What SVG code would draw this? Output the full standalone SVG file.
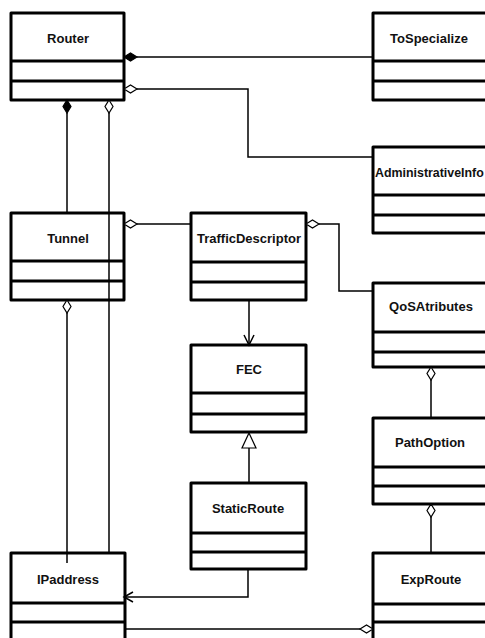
<svg xmlns="http://www.w3.org/2000/svg" width="485" height="638" viewBox="0 0 485 638">
<style>
.box{fill:none;stroke:#000;stroke-width:3;stroke-linejoin:round}
.div{stroke:#000;stroke-width:3}
.t{font-family:"Liberation Sans",Arial,sans-serif;font-weight:bold;font-size:13px;fill:#111;text-anchor:middle}
.c{fill:none;stroke:#000;stroke-width:1.5}
.fd{fill:#000;stroke:#000;stroke-width:1.2}
.hd{fill:#fff;stroke:#000;stroke-width:1.2}
</style>
<rect width="485" height="638" fill="#fff"/>
<g id="Router">
<rect class="box" x="11" y="13" width="113" height="87"/>
<line class="div" x1="11" y1="61" x2="124" y2="61"/>
<line class="div" x1="11" y1="81" x2="124" y2="81"/>
<text class="t" x="68" y="42.5">Router</text>
</g>
<g id="ToSpecialize">
<rect class="box" x="373" y="13" width="114" height="87"/>
<line class="div" x1="373" y1="61" x2="487" y2="61"/>
<line class="div" x1="373" y1="81" x2="487" y2="81"/>
<text class="t" x="429" y="42.5">ToSpecialize</text>
</g>
<g id="AdministrativeInfo">
<rect class="box" x="373" y="147" width="114" height="86"/>
<line class="div" x1="373" y1="195" x2="487" y2="195"/>
<line class="div" x1="373" y1="215" x2="487" y2="215"/>
<text class="t" x="375" y="176.5" style="text-anchor:start;font-size:12.4px">AdministrativeInfo</text>
</g>
<g id="Tunnel">
<rect class="box" x="11" y="213" width="113" height="87"/>
<line class="div" x1="11" y1="261" x2="124" y2="261"/>
<line class="div" x1="11" y1="281" x2="124" y2="281"/>
<text class="t" x="68" y="242.5">Tunnel</text>
</g>
<g id="TrafficDescriptor">
<rect class="box" x="191" y="213" width="115" height="87"/>
<line class="div" x1="191" y1="262" x2="306" y2="262"/>
<line class="div" x1="191" y1="282" x2="306" y2="282"/>
<text class="t" x="249" y="242.5">TrafficDescriptor</text>
</g>
<g id="QoSAtributes">
<rect class="box" x="373" y="283" width="114" height="84"/>
<line class="div" x1="373" y1="332" x2="487" y2="332"/>
<line class="div" x1="373" y1="352" x2="487" y2="352"/>
<text class="t" x="431" y="311">QoSAtributes</text>
</g>
<g id="FEC">
<rect class="box" x="191" y="345" width="115" height="87"/>
<line class="div" x1="191" y1="393" x2="306" y2="393"/>
<line class="div" x1="191" y1="414" x2="306" y2="414"/>
<text class="t" x="249" y="374">FEC</text>
</g>
<g id="PathOption">
<rect class="box" x="373" y="418" width="114" height="86"/>
<line class="div" x1="373" y1="467" x2="487" y2="467"/>
<line class="div" x1="373" y1="486" x2="487" y2="486"/>
<text class="t" x="430" y="447">PathOption</text>
</g>
<g id="StaticRoute">
<rect class="box" x="191" y="483" width="115" height="86"/>
<line class="div" x1="191" y1="533" x2="306" y2="533"/>
<line class="div" x1="191" y1="552" x2="306" y2="552"/>
<text class="t" x="248" y="512.5">StaticRoute</text>
</g>
<g id="IPaddress">
<rect class="box" x="11" y="553" width="114" height="88"/>
<line class="div" x1="11" y1="603" x2="125" y2="603"/>
<line class="div" x1="11" y1="622" x2="125" y2="622"/>
<text class="t" x="68" y="584">IPaddress</text>
</g>
<g id="ExpRoute">
<rect class="box" x="373" y="553" width="114" height="88"/>
<line class="div" x1="373" y1="604" x2="487" y2="604"/>
<line class="div" x1="373" y1="622" x2="487" y2="622"/>
<text class="t" x="431" y="584">ExpRoute</text>
</g>
<g id="connectors">
<line class="c" x1="137" y1="57" x2="373" y2="57"/>
<polygon class="fd" points="124,57 130.5,53 137,57 130.5,61"/>
<polyline class="c" points="137,89 248,89 248,157 373,157"/>
<polygon class="hd" points="124,89 130.5,85 137,89 130.5,93"/>
<line class="c" x1="67" y1="113" x2="67" y2="213"/>
<polygon class="fd" points="67,100 71,106.5 67,113 63,106.5"/>
<line class="c" x1="109" y1="113" x2="109" y2="553"/>
<polygon class="hd" points="109,100 113,106.5 109,113 105,106.5"/>
<line class="c" x1="137" y1="224" x2="191" y2="224"/>
<polygon class="hd" points="124,224 130.5,220 137,224 130.5,228"/>
<line class="c" x1="67" y1="313" x2="67" y2="563"/>
<polygon class="hd" points="67,300 71,306.5 67,313 63,306.5"/>
<polyline class="c" points="319,224 339,224 339,291 373,291"/>
<polygon class="hd" points="306,224 312.5,220 319,224 312.5,228"/>
<line class="c" x1="249" y1="300" x2="249" y2="345"/>
<polyline class="c" points="244,335 249,345 254,335"/>
<line class="c" x1="249" y1="448" x2="249" y2="483"/>
<polygon class="hd" points="249,433 256,448 242,448"/>
<polyline class="c" points="248,569 248,597 124,597"/>
<polyline class="c" points="133,592 124,597 133,602"/>
<line class="c" x1="431" y1="380" x2="431" y2="418"/>
<polygon class="hd" points="431,367 435,373.5 431,380 427,373.5"/>
<line class="c" x1="431" y1="517" x2="431" y2="553"/>
<polygon class="hd" points="431,504 435,510.5 431,517 427,510.5"/>
<line class="c" x1="124" y1="629" x2="360" y2="629"/>
<polygon class="hd" points="373,629 366.5,625 360,629 366.5,633"/>
</g>
</svg>
